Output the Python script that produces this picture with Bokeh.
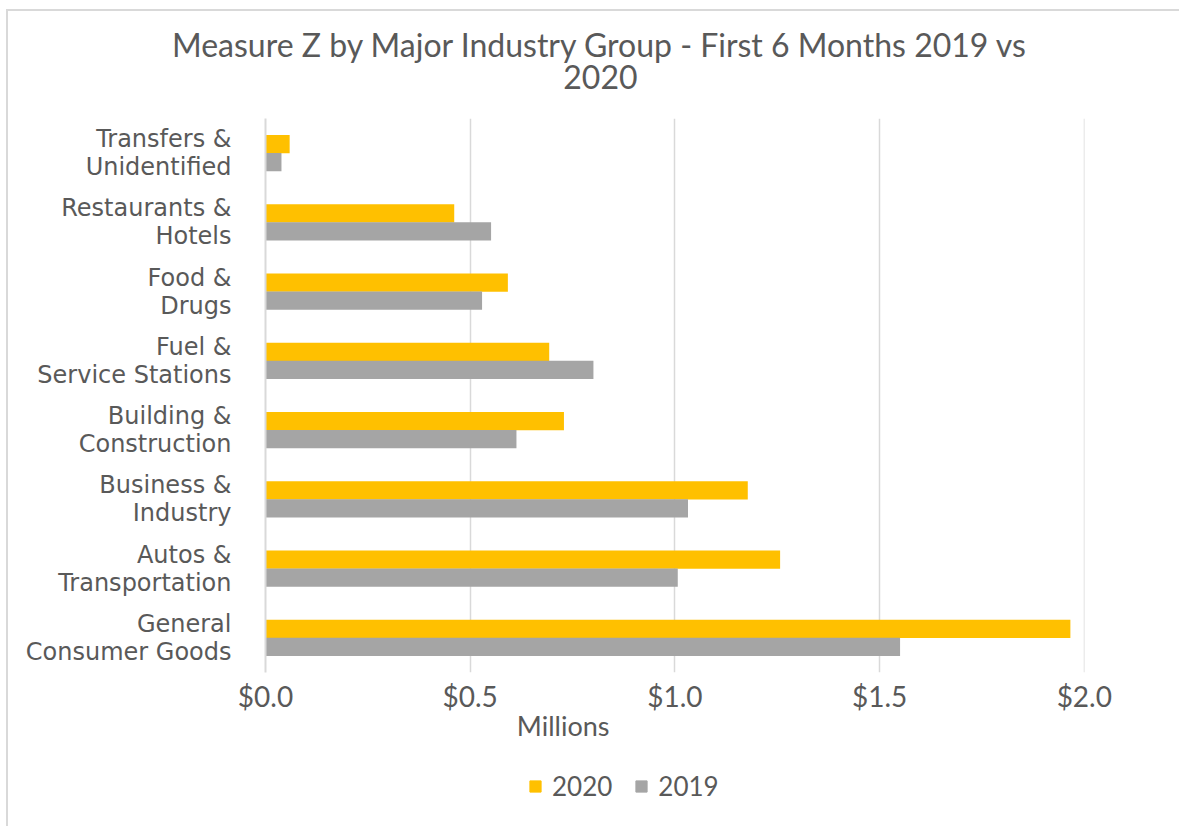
from bokeh.plotting import figure
from bokeh.layouts import column
from bokeh.models import (ColumnDataSource, Range1d, FixedTicker, Legend, LegendItem,
                          LinearAxis, NumeralTickFormatter)
from bokeh.embed import file_html
from bokeh.resources import INLINE

# ---- data (millions of $) ----
categories = ["General Consumer Goods", "Autos & Transportation", "Business & Industry",
              "Building & Construction", "Fuel & Service Stations", "Food & Drugs",
              "Restaurants & Hotels", "Transfers & Unidentified"]
category_labels = ["General\nConsumer Goods", "Autos &\nTransportation", "Business &\nIndustry",
                   "Building &\nConstruction", "Fuel &\nService Stations", "Food &\nDrugs",
                   "Restaurants &\nHotels", "Transfers &\nUnidentified"]
values_2020 = [1.966, 1.257, 1.178, 0.729, 0.693, 0.592, 0.461, 0.059]
values_2019 = [1.550, 1.007, 1.032, 0.613, 0.801, 0.529, 0.551, 0.039]
x_ticks = [0.0, 0.5, 1.0, 1.5, 2.0]
series_names = ["2020", "2019"]
title_text = "Measure Z by Major Industry Group - First 6 Months 2019 vs\n2020"
unit_text = "Millions"

GRAY_TXT = "#595959"
GRID = "#d9d9d9"
C2020 = "#FFC000"
C2019 = "#A5A5A5"

idx = list(range(len(categories)))
src = ColumnDataSource(dict(
    pos=idx,
    y20=[i + 0.13 for i in idx],
    y19=[i - 0.13 for i in idx],
    v2020=values_2020, v2019=values_2019))

W = 1171
p = figure(width=W, height=733, y_range=Range1d(-0.5, len(categories) - 0.5),
           x_range=Range1d(0, 2.0005),
           output_backend="svg", toolbar_location=None,
           min_border_left=257, min_border_right=95, min_border_top=107, min_border_bottom=60)
p.outline_line_color = None
p.background_fill_color = "white"
p.border_fill_color = "white"
p.title = None

r20 = p.hbar(y="y20", right="v2020", height=0.265, left=0,
             source=src, color=C2020, line_color=None)
r19 = p.hbar(y="y19", right="v2019", height=0.265, left=0,
             source=src, color=C2019, line_color=None)


def caption_axis(pos, text, size, standoff, line_height=1.0):
    """A label-only axis used to place a caption outside the plot frame."""
    return LinearAxis(ticker=FixedTicker(ticks=[pos]), major_label_overrides={pos: text},
                      axis_line_color=None, major_tick_line_color=None,
                      minor_tick_line_color=None, major_label_standoff=standoff,
                      major_label_text_font="Lato", major_label_text_font_size=size,
                      major_label_text_line_height=line_height,
                      major_label_text_color=GRAY_TXT)


# x axis
p.xaxis.ticker = FixedTicker(ticks=x_ticks)
p.xaxis.formatter = NumeralTickFormatter(format="$0.0")
p.xaxis.axis_line_color = None
p.xaxis.major_tick_line_color = None
p.xaxis.minor_tick_line_color = None
p.xaxis.major_label_text_font = "Lato"
p.xaxis.major_label_text_font_size = "28px"
p.xaxis.major_label_text_color = GRAY_TXT
p.xaxis.major_label_standoff = 0

# "Millions" unit caption below the tick labels
p.add_layout(caption_axis(0.727, unit_text, "27px", -13), "below")
# two-line chart title above the frame
p.add_layout(caption_axis(0.818, title_text, "32px", 17, 0.81), "above")

# y axis
p.yaxis.ticker = FixedTicker(ticks=idx)
p.yaxis.major_label_overrides = {i: l for i, l in zip(idx, category_labels)}
p.yaxis.axis_line_color = GRID
p.yaxis.axis_line_width = 2
p.yaxis.major_tick_line_color = None
p.yaxis.minor_tick_line_color = None
p.yaxis.major_label_text_font = "DejaVu Sans"
p.yaxis.major_label_text_font_size = "24px"
p.yaxis.major_label_text_line_height = 1.0
p.yaxis.major_label_text_color = GRAY_TXT
p.yaxis.major_label_standoff = 28

p.xgrid.grid_line_color = GRID
p.xgrid.grid_line_width = 1.5
p.ygrid.grid_line_color = None

# legend strip below the chart
lg = figure(width=W, height=82, x_range=Range1d(0, 1), y_range=Range1d(0, 1),
            output_backend="svg", toolbar_location=None, x_axis_type=None, y_axis_type=None,
            min_border=0)
lg.outline_line_color = None
lg.title = None
# key swatches: renderers kept outside the visible range, only their legend glyphs show
keys = ColumnDataSource(dict(l=[-3.0], r=[-2.0], b=[-3.0], t=[-2.0]))
k20 = lg.quad(left="l", right="r", bottom="b", top="t", source=keys, color=C2020)
k19 = lg.quad(left="l", right="r", bottom="b", top="t", source=keys, color=C2019)
legend = Legend(items=[LegendItem(label=series_names[0], renderers=[k20]),
                       LegendItem(label=series_names[1], renderers=[k19])],
                orientation="horizontal", location=(263, 24),
                label_text_font="Lato", label_text_font_size="26px", label_text_color=GRAY_TXT,
                glyph_width=14, glyph_height=14, spacing=22, label_standoff=10,
                border_line_color=None, background_fill_alpha=0, padding=0, margin=0)
lg.add_layout(legend, "center")

layout = column(p, lg, spacing=0)
layout.margin = (9, 0, 0, 6)
layout.styles = {"border-top": "2px solid #d9d9d9", "border-left": "2px solid #d9d9d9"}

open("out.html", "w").write(file_html(layout, INLINE))
